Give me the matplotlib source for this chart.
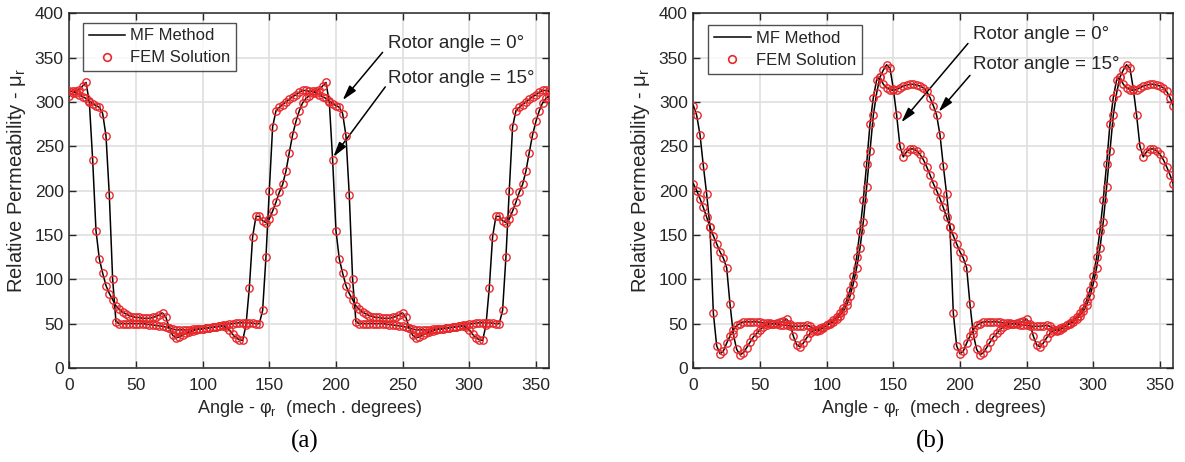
import numpy as np
import matplotlib
matplotlib.use('Agg')
import matplotlib.pyplot as plt

plt.rcParams['font.family'] = ['Liberation Sans', 'DejaVu Sans']
plt.rcParams['mathtext.fontset'] = 'custom'
plt.rcParams['mathtext.rm'] = 'Liberation Sans'
plt.rcParams['mathtext.it'] = 'Liberation Sans:italic'

# rotor position along the air gap, mech. degrees
angle = np.arange(0, 360.1, 2.5)

# (a) permeability, rotor angle 15 deg
mu_a_15 = [
    307, 310, 312, 314, 318, 322, 300, 235, 155, 123, 107, 93,
    84, 77, 70, 66, 63, 61, 59, 58, 57, 57, 56, 56,
    56, 57, 58, 60, 62, 57, 45, 37, 34, 35, 37, 39,
    41, 42, 43, 44, 44, 45, 45, 46, 46, 47, 47, 46,
    43, 38, 34, 32, 31, 48, 90, 148, 171, 171, 166, 164,
    168, 177, 187, 198, 207, 222, 243, 263, 278, 290, 299, 304,
    307, 310, 312, 314, 318, 322, 300, 235, 155, 123, 107, 93,
    84, 77, 70, 66, 63, 61, 59, 58, 57, 57, 56, 56,
    56, 57, 58, 60, 62, 57, 45, 37, 34, 35, 37, 39,
    41, 42, 43, 44, 44, 45, 45, 46, 46, 47, 47, 46,
    43, 38, 34, 32, 31, 48, 90, 148, 171, 171, 166, 164,
    168, 177, 187, 198, 207, 222, 243, 263, 278, 290, 299, 304,
    307]
# (a) permeability, rotor angle 0 deg
mu_a_0 = [
    312, 312, 310, 308, 306, 304, 301, 298, 296, 294, 287, 262,
    195, 100, 52, 50, 50, 50, 50, 50, 50, 50, 50, 49.5,
    49, 48.5, 48, 47.5, 47, 46, 45, 44, 43, 43, 43, 43,
    43, 43.5, 44, 44, 44.5, 45, 45.5, 46, 46.5, 47, 48, 49,
    49.5, 50, 50.5, 51, 51, 51, 51, 50.5, 50, 50, 65, 125,
    200, 272, 290, 294, 297, 300, 303, 306, 308, 311, 313, 313,
    312, 312, 310, 308, 306, 304, 301, 298, 296, 294, 287, 262,
    195, 100, 52, 50, 50, 50, 50, 50, 50, 50, 50, 49.5,
    49, 48.5, 48, 47.5, 47, 46, 45, 44, 43, 43, 43, 43,
    43, 43.5, 44, 44, 44.5, 45, 45.5, 46, 46.5, 47, 48, 49,
    49.5, 50, 50.5, 51, 51, 51, 51, 50.5, 50, 50, 65, 125,
    200, 272, 290, 294, 297, 300, 303, 306, 308, 311, 313, 313,
    312]

# (b) permeability, rotor angle 15 deg
mu_b_15 = [
    296, 285, 263, 228, 196, 159, 62, 25, 16, 19, 28, 36,
    43, 48, 50, 52, 52, 52, 52, 52, 51.5, 51, 51, 50.5,
    50, 49.5, 49, 48.5, 48, 47.5, 47, 47, 47, 47.5, 48, 47,
    44, 42, 43, 45, 48, 51, 54, 58, 62, 68, 76, 88,
    104, 125, 155, 190, 230, 275, 305, 325, 328, 320, 316, 314,
    313, 314, 316, 318, 319, 320, 320, 319, 318, 316, 312, 305,
    296, 285, 263, 228, 196, 159, 62, 25, 16, 19, 28, 36,
    43, 48, 50, 52, 52, 52, 52, 52, 51.5, 51, 51, 50.5,
    50, 49.5, 49, 48.5, 48, 47.5, 47, 47, 47, 47.5, 48, 47,
    44, 42, 43, 45, 48, 51, 54, 58, 62, 68, 76, 88,
    104, 125, 155, 190, 230, 275, 305, 325, 328, 320, 316, 314,
    313, 314, 316, 318, 319, 320, 320, 319, 318, 316, 312, 305,
    296]
# (b) permeability, rotor angle 0 deg
mu_b_0 = [
    208, 200, 191, 181, 170, 159, 149, 140, 131, 124, 113, 72,
    38, 21, 15, 17, 23, 29, 35, 39, 43, 46.5, 48, 49.5,
    50, 50.5, 51.5, 53, 55, 50, 36, 26, 24, 28, 34, 39,
    42, 43, 45, 46.5, 48, 50, 52, 55, 59, 64, 71, 81,
    95, 113, 135, 165, 204, 245, 285, 310, 328, 336, 342, 338,
    315, 285, 250, 238, 244, 247, 247, 245, 241, 235, 227, 218,
    208, 200, 191, 181, 170, 159, 149, 140, 131, 124, 113, 72,
    38, 21, 15, 17, 23, 29, 35, 39, 43, 46.5, 48, 49.5,
    50, 50.5, 51.5, 53, 55, 50, 36, 26, 24, 28, 34, 39,
    42, 43, 45, 46.5, 48, 50, 52, 55, 59, 64, 71, 81,
    95, 113, 135, 165, 204, 245, 285, 310, 328, 336, 342, 338,
    315, 285, 250, 238, 244, 247, 247, 245, 241, 235, 227, 218,
    208]

ticks_x = [0, 50, 100, 150, 200, 250, 300, 350]
ticks_y = [0, 50, 100, 150, 200, 250, 300, 350, 400]

dark = '#262626'
red = '#e8282b'
fs_tick = 12.5
fs_label = 13
fs_ylabel = 14.5
fs_leg = 12
fs_note = 13.5


def draw_panel(ax, curves, legend_anchor):
    for vals in curves:
        ax.plot(angle, vals, color='black', lw=1.1, zorder=3)
    for vals in curves:
        ax.plot(angle, vals, 'o', mfc='none', mec=red, ms=5.3, mew=1.0, zorder=4)

    ax.set_xlim(0, 360)
    ax.set_ylim(0, 400)
    ax.set_xticks(ticks_x)
    ax.set_yticks(ticks_y)
    ax.grid(True, color='#dfdfdf', lw=1.2)
    ax.set_axisbelow(True)
    ax.tick_params(direction='in', top=True, right=True, length=5, width=1,
                   colors=dark, labelsize=fs_tick)
    ax.tick_params(axis='x', pad=7)
    ax.tick_params(axis='y', pad=4)
    for sp in ax.spines.values():
        sp.set_color(dark)
        sp.set_linewidth(1.1)
    ax.set_xlabel(r'Angle - $\mathregular{φ_r}$  (mech . degrees)', fontsize=fs_label,
                  color=dark, labelpad=4)
    ax.set_ylabel(r'Relative Permeability - $\mathregular{μ_r}$', fontsize=fs_ylabel,
                  color=dark)
    ax.yaxis.set_label_coords(-0.087, 0.53)

    h_line, = ax.plot([], [], color='black', lw=1.1)
    h_mark, = ax.plot([], [], 'o', mfc='none', mec=red, ms=5.5, mew=1.2)
    leg = ax.legend([h_line, h_mark], ['MF Method', 'FEM Solution'],
                    loc='upper left', bbox_to_anchor=legend_anchor,
                    borderaxespad=0, fontsize=fs_leg, frameon=True, fancybox=False,
                    edgecolor=dark, handlelength=2.2, handletextpad=0.3,
                    borderpad=0.35, labelspacing=0.42)
    leg.get_frame().set_linewidth(1.0)
    for t in leg.get_texts():
        t.set_color(dark)


def label_arrows(ax, text_x, text_y, tails, tips):
    for s, ty in zip(['Rotor angle = 0°', 'Rotor angle = 15°'], text_y):
        ax.text(text_x, ty, s, fontsize=fs_note, color=dark, va='center', ha='left')
    for tail, tip in zip(tails, tips):
        ax.annotate('', xy=tip, xytext=tail,
                    arrowprops=dict(arrowstyle='-|>,head_length=0.9,head_width=0.25',
                                    color='black', lw=1.1, shrinkA=0, shrinkB=0))


fig = plt.figure(figsize=(11.85, 4.62), dpi=100)
ax1 = fig.add_axes([0.0585, 0.2035, 0.405, 0.7677])
ax2 = fig.add_axes([0.5851, 0.2035, 0.405, 0.7677])

draw_panel(ax1, [mu_a_15, mu_a_0], (0.028, 0.974))
draw_panel(ax2, [mu_b_15, mu_b_0], (0.031, 0.967))

label_arrows(ax1, 239, [366, 327], [(235, 356), (237, 317)], [(205, 302), (198, 238)])
label_arrows(ax2, 210, [376, 342], [(206, 366), (207.5, 330)], [(156, 277), (184, 289)])

fig.text(0.257, 0.045, '(a)', ha='center', va='center', fontsize=18,
         family='Liberation Serif', color='black')
fig.text(0.785, 0.045, '(b)', ha='center', va='center', fontsize=18,
         family='Liberation Serif', color='black')

fig.savefig('out.png', dpi=100)
